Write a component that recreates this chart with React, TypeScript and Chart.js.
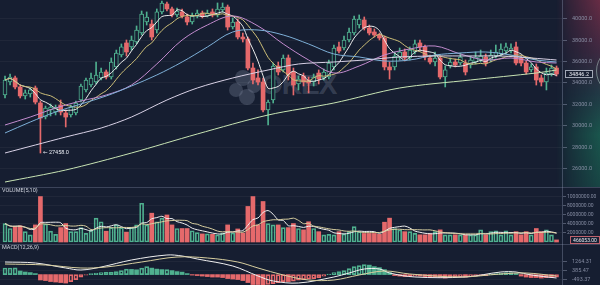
import React, { useEffect, useRef } from "react";
import { Chart, registerables } from "chart.js";

Chart.register(...registerables);

if (typeof document !== "undefined") document.body.style.margin = "0";

// ---------- data ----------
const opens = [
  32880, 34090, 34470, 33630, 32790, 32970, 33530, 32130, 30820, 31480,
  31290, 31940, 31200, 31010, 31200, 32410, 33350, 33810, 34090, 34470,
  35030, 34560, 35500, 36620, 37740, 37370, 37830, 38670, 39700, 39510,
  38950, 40640, 41380, 40920, 40360, 40640, 40170, 39700, 40260, 40540,
  40260, 40640, 40360, 40820, 41100, 39230, 39700, 38300, 38110, 35400,
  34470, 34090, 31480, 32410, 35590, 35220, 36340, 35030, 33910, 34650,
  34280, 34090, 34930, 34470, 34560, 35500, 37370, 37270, 38020, 38670,
  39420, 39890, 39140, 38770, 38490, 38210, 35500, 35500, 36430, 36900,
  36340, 36900, 37740, 37370, 36340, 35960, 36340, 34560, 35590, 35960,
  35870, 35870, 35680, 35960, 36150, 36430, 36150, 36520, 36710, 36990,
  36990, 37370, 36340, 35870, 35220, 35500, 34470, 34090, 34840, 35400,
];
const closes = [
  34280, 34560, 33630, 32790, 33070, 33350, 32220, 30730, 31660, 31760,
  31660, 31290, 30820, 31760, 32130, 33720, 34280, 34470, 34750, 35030,
  34560, 35960, 36800, 37370, 36900, 38020, 38950, 40450, 40170, 38300,
  40640, 41480, 40920, 40360, 40730, 40260, 39700, 40260, 40540, 40260,
  40540, 40360, 40920, 41100, 39230, 39700, 38300, 38110, 35400, 34280,
  34090, 31480, 32220, 35590, 35030, 36340, 34750, 33810, 34370, 34090,
  34000, 34560, 34370, 35030, 35870, 37270, 36990, 38020, 38770, 39980,
  39980, 39140, 38670, 38490, 38210, 35500, 35220, 36520, 36900, 36340,
  37080, 37650, 37370, 36430, 35960, 36340, 34560, 35220, 35960, 35680,
  36430, 35030, 36150, 36430, 36520, 35870, 36620, 36900, 37180, 37370,
  37270, 35870, 35870, 35030, 35500, 34280, 34090, 34930, 35400, 34846.2,
];
const highs = [
  34650, 34840, 34650, 33810, 33350, 33530, 33720, 32320, 31850, 32040,
  31940, 32410, 31480, 31940, 32320, 33910, 34470, 34930, 35960, 35400,
  35220, 36340, 37080, 37650, 38020, 38390, 39330, 40730, 40640, 39890,
  40920, 41660, 41570, 41100, 41010, 40920, 40450, 40540, 40820, 40730,
  40820, 40920, 41480, 41480, 41290, 40080, 39980, 38670, 38300, 35870,
  35220, 34470, 32410, 35870, 35960, 36620, 36620, 35400, 34650, 34930,
  34560, 34840, 35220, 35310, 36150, 37550, 37830, 38390, 39140, 40260,
  40360, 40170, 39420, 39050, 38670, 38390, 35960, 36900, 37270, 37180,
  37370, 38020, 38020, 37550, 36620, 36900, 36520, 35590, 36340, 36240,
  36800, 36150, 36520, 36900, 37080, 36710, 37080, 37550, 37650, 37740,
  37650, 37830, 36520, 36060, 35780, 35780, 34750, 35400, 35680, 35590,
];
const lows = [
  32600, 33810, 33440, 32600, 32500, 32690, 32040, 27458, 30640, 30920,
  31010, 31010, 29890, 30820, 31010, 32220, 33160, 33630, 33910, 34280,
  34370, 34370, 35310, 36430, 36520, 37080, 37650, 38490, 39420, 38020,
  38670, 40450, 40730, 40170, 40170, 40080, 39420, 39510, 40080, 40080,
  40170, 40170, 40170, 40640, 38950, 39050, 38110, 37830, 35220, 33910,
  33810, 31290, 30080, 32130, 34750, 35030, 34280, 32880, 33350, 33720,
  33070, 33720, 33910, 34280, 34370, 35220, 36800, 37080, 37830, 38490,
  39140, 38950, 38490, 38300, 38020, 35220, 34370, 35220, 36150, 36060,
  36150, 36710, 37080, 36150, 35780, 35590, 34370, 33630, 35400, 35500,
  35680, 34750, 35400, 35780, 35960, 35590, 35960, 36340, 36520, 36710,
  36800, 35680, 35590, 34840, 35030, 33810, 33720, 33350, 34650, 34650,
];
const volumes = [
  4100000, 3000000, 3400000, 3600000, 2300000, 1600000, 3800000, 10100000, 4000000, 2400000,
  1700000, 3200000, 4100000, 2300000, 2300000, 3200000, 1900000, 2600000, 5300000, 4500000,
  2400000, 3200000, 3800000, 3200000, 2200000, 3200000, 3800000, 8600000, 3800000, 6400000,
  4500000, 5300000, 6000000, 3800000, 3000000, 3000000, 3000000, 2500000, 2100000, 1800000,
  1800000, 1700000, 1600000, 2000000, 3800000, 2000000, 2900000, 2000000, 7900000, 10100000,
  3800000, 9000000, 4100000, 3800000, 3800000, 3200000, 3200000, 4100000, 3000000, 2700000,
  4500000, 3000000, 2300000, 1600000, 1700000, 1600000, 2300000, 1800000, 2300000, 3400000,
  2300000, 1900000, 1900000, 1900000, 1700000, 4400000, 5300000, 3000000, 2700000, 2300000,
  2300000, 1900000, 1600000, 1600000, 1800000, 2300000, 2700000, 1600000, 1600000, 1600000,
  1600000, 1600000, 1600000, 1600000, 2700000, 1600000, 2300000, 2500000, 1600000, 2500000,
  1600000, 2300000, 1600000, 2300000, 1600000, 3000000, 2300000, 2700000, 1600000, 466053,
];
const macdHist = [
  660, 660, 680, 360, 260, 200, 100, -540, -600, -700,
  -750, -800, -850, -700, -500, -250, -50, 100, 150, 200,
  250, 250, 300, 400, 550, 520, 480, 650, 800, 650,
  550, 500, 500, 400, 300, 250, 100, -50, -100, -150,
  -200, -250, -250, -300, -400, -450, -500, -600, -800, -1000,
  -1000, -1100, -1000, -900, -800, -700, -700, -650, -550, -500,
  -450, -400, -300, -150, 50, 200, 300, 400, 600, 800,
  900, 1000, 950, 800, 700, 500, 200, -100, -150, -200,
  -200, -150, -150, -200, -250, -250, -300, -350, -300, -250,
  -200, -250, -200, -150, -100, -100, 50, 100, 150, 200,
  200, 100, -150, -250, -300, -300, -350, -300, -300, -250,
];
const difIdx = [0, 6, 12, 15, 19, 25, 32, 35, 38, 45, 50, 53, 58, 65, 68, 71, 74, 76, 81, 91, 98, 101, 104, 109];
const difVals = [1264, 1164, 662, 461, 762, 1465, 1967, 1867, 1566, 863, -142, -644, -845, -242, 160, 561, 561, 160, -242, -242, 260, 260, -41, -343];
const deaIdx = [0, 8, 15, 20, 27, 34, 40, 46, 50, 55, 60, 65, 70, 75, 80, 90, 98, 103, 109];
const deaVals = [1063, 963, 662, 762, 1264, 1766, 1666, 1264, 662, -41, -544, -544, -41, 361, 60, -242, 60, 160, -142];

const ma20Idx = [0, 5, 10, 15, 20, 25, 30, 35, 40, 45, 50, 55, 60, 65, 70, 75, 80, 85, 90, 95, 100, 105, 109];
const ma20Vals = [30075, 30822, 31663, 32318, 32878, 33813, 35776, 38019, 39421, 40262, 39327, 37645, 36150, 34935, 35589, 36617, 37178, 37458, 36711, 36150, 36337, 35963, 35869];
const ma30Idx = [0, 5, 10, 15, 20, 25, 30, 35, 40, 45, 50, 55, 60, 65, 70, 75, 80, 85, 90, 95, 100, 105, 109];
const ma30Vals = [29327, 30355, 31290, 32037, 32785, 33720, 34748, 35963, 37365, 38767, 38953, 38486, 37645, 36711, 36430, 36056, 36150, 36617, 36804, 36897, 36617, 36150, 35963];
const ma60Idx = [0, 6, 12, 19, 25, 32, 38, 45, 52, 58, 65, 71, 78, 85, 92, 98, 104, 109];
const ma60Vals = [27458, 28206, 28953, 29794, 30822, 32411, 33533, 34468, 35215, 35776, 35963, 36150, 36430, 36524, 36524, 36524, 36337, 36150];
const ma120Idx = [0, 12, 25, 38, 52, 65, 78, 92, 105, 109];
const ma120Vals = [24747, 25869, 27458, 29234, 31009, 32131, 33533, 34281, 34935, 35215];

const priceTicks = [26000, 28000, 30000, 32000, 34000, 36000, 38000, 40000];
const volumeTicks = [2000000, 4000000, 6000000, 8000000, 10000000];
const macdTicks = [-493.37, 385.47, 1264.31];

// ---------- style ----------
const BG = "#161e31";
const RED = "#e5696b";
const GREEN = "#4fb08f";
const LABEL = "rgba(150,158,180,0.85)";
const GRID = "rgba(255,255,255,0.045)";
const TICKC = "rgba(150,160,185,0.45)";
const AXIS_LINE = "rgba(140,150,175,0.38)";
const FONT = "Roboto, 'DejaVu Sans', sans-serif";
const AXIS_W = 38;
const X_MIN = -0.99;
const X_MAX = 110.08;

Chart.defaults.font.family = FONT;

const isUp = (i: number) => closes[i] >= opens[i];

function movingAverage(values: number[], n: number) {
  return values.map((_, i) => {
    const s = Math.max(0, i - n + 1);
    const w = values.slice(s, i + 1);
    return w.reduce((a, b) => a + b, 0) / w.length;
  });
}

const pts = (idx: number[], vals: number[]) => idx.map((x, k) => ({ x, y: vals[k] }));
const seq = (vals: number[]) => vals.map((y, x) => ({ x, y }));

function xScale(): any {
  return { type: "linear", display: false, min: X_MIN, max: X_MAX, offset: false, grid: { display: false } };
}

function yScale(min: number, max: number, ticks: number[], decimals: number, size: number, tickLength: number, padding: number): any {
  return {
    type: "linear",
    position: "right",
    min,
    max,
    afterBuildTicks: (s: any) => {
      s.ticks = ticks.map((v) => ({ value: v }));
    },
    afterFit: (s: any) => {
      s.width = AXIS_W;
      s.paddingTop = 0;
      s.paddingBottom = 0;
    },
    ticks: {
      autoSkip: false,
      color: LABEL,
      font: { size, family: FONT },
      padding,
      callback: (v: any) => Number(v).toFixed(decimals),
    },
    grid: { color: GRID, tickColor: TICKC, tickLength, drawTicks: true },
    border: { display: true, color: AXIS_LINE, width: 1 },
  };
}

const baseOptions = (scales: any): any => ({
  animation: false,
  responsive: false,
  maintainAspectRatio: false,
  events: [],
  layout: { padding: 0 },
  plugins: { legend: { display: false }, tooltip: { enabled: false }, title: { display: false } },
  scales,
});

const topRule = {
  id: "topRule",
  afterDraw(chart: any) {
    const c = chart.ctx;
    c.save();
    c.strokeStyle = "rgba(150,160,185,0.3)";
    c.lineWidth = 1;
    c.beginPath();
    c.moveTo(0, 0.5);
    c.lineTo(chart.width, 0.5);
    c.stroke();
    c.restore();
  },
};

const panelTitle = (text: string) => ({
  id: "panelTitle",
  afterDraw(chart: any) {
    const c = chart.ctx;
    c.save();
    c.font = `5.5px ${FONT}`;
    c.fillStyle = "#cfd3dd";
    c.textBaseline = "middle";
    c.fillText(text, 2, 3.8);
    c.restore();
  },
});

const mainDecor = {
  id: "mainDecor",
  afterDraw(chart: any) {
    const { ctx, chartArea } = chart;
    const xs = chart.scales.x;
    const ys = chart.scales.y;
    let mi = 0;
    lows.forEach((v, i) => {
      if (v < lows[mi]) mi = i;
    });
    const lx = xs.getPixelForValue(mi);
    const ly = ys.getPixelForValue(lows[mi]);
    ctx.save();
    ctx.font = `5.5px ${FONT}`;
    ctx.textBaseline = "middle";
    ctx.fillStyle = "#e8ebf2";
    ctx.fillText("← " + lows[mi].toFixed(1), lx + 2.5, ly);
    const last = closes[closes.length - 1];
    const ty = Math.round(ys.getPixelForValue(last));
    const bx = chartArea.right + 3;
    ctx.fillStyle = "rgba(24,32,50,0.92)";
    ctx.fillRect(bx, ty - 4, 28, 8);
    ctx.strokeStyle = "rgba(210,215,228,0.75)";
    ctx.lineWidth = 1;
    ctx.strokeRect(bx + 0.5, ty - 3.5, 27, 7);
    ctx.fillStyle = "#e8ebf2";
    ctx.textAlign = "center";
    ctx.fillText(last.toFixed(1), bx + 14, ty + 0.5);
    ctx.restore();
  },
};

const volumeTag = {
  id: "volumeTag",
  afterDraw(chart: any) {
    const { ctx, chartArea } = chart;
    const ys = chart.scales.y;
    const last = volumes[volumes.length - 1];
    const ty = Math.round(ys.getPixelForValue(last));
    const bx = chartArea.right + 8;
    ctx.save();
    ctx.fillStyle = "rgba(24,32,50,0.92)";
    ctx.fillRect(bx, ty - 4, 30, 8);
    ctx.strokeStyle = "rgba(220,110,120,0.85)";
    ctx.lineWidth = 1;
    ctx.strokeRect(bx + 0.5, ty - 3.5, 29, 7);
    ctx.font = `5px ${FONT}`;
    ctx.fillStyle = "#e8ebf2";
    ctx.textAlign = "center";
    ctx.textBaseline = "middle";
    ctx.fillText(last.toFixed(2), bx + 15, ty + 0.5);
    ctx.restore();
  },
};

const line = (data: any[], color: string, order = 1, tension = 0.35): any => ({
  type: "line",
  data,
  borderColor: color,
  borderWidth: 1,
  pointRadius: 0,
  tension,
  fill: false,
  order,
});

function mainConfig(): any {
  const up = opens.map((_, i) => isUp(i));
  return {
    type: "bar",
    data: {
      datasets: [
        {
          type: "bar",
          data: lows.map((l, i) => ({ x: i, y: [l, highs[i]] })),
          backgroundColor: up.map((u) => (u ? GREEN : RED)),
          barThickness: 1,
          grouped: false,
          order: 3,
        },
        {
          type: "bar",
          data: opens.map((o, i) => ({ x: i, y: [o, closes[i]] })),
          backgroundColor: up.map((u) => (u ? BG : RED)),
          borderColor: up.map((u) => (u ? GREEN : RED)),
          borderWidth: up.map((u) => (u ? 1 : 0)),
          borderSkipped: false,
          barThickness: 4,
          grouped: false,
          order: 2,
        },
        line(pts(ma120Idx, ma120Vals), "#c8e4b4", 1, 0.3),
        line(pts(ma60Idx, ma60Vals), "#d9d2e6", 1, 0.3),
        line(pts(ma30Idx, ma30Vals), "#7eb0d8", 1, 0.35),
        line(pts(ma20Idx, ma20Vals), "#c38ccf", 1, 0.35),
        line(seq(movingAverage(closes, 10)), "#cdbf78", 1, 0.3),
        line(seq(movingAverage(closes, 5)), "#ececec", 1, 0.3),
      ],
    },
    options: baseOptions({ x: xScale(), y: yScale(24280, 41757, priceTicks, 1, 5.5, 5, 5) }),
    plugins: [mainDecor],
  };
}

function volumeConfig(): any {
  const up = opens.map((_, i) => isUp(i));
  return {
    type: "bar",
    data: {
      datasets: [
        {
          type: "bar",
          data: seq(volumes),
          backgroundColor: up.map((u) => (u ? "rgba(0,0,0,0)" : RED)),
          borderColor: up.map((u) => (u ? GREEN : RED)),
          borderWidth: up.map((u) => (u ? 1 : 0)),
          borderSkipped: false,
          barThickness: 4,
          grouped: false,
          order: 2,
        },
        line(seq(movingAverage(volumes, 10)), "#d8cfa0", 1, 0.3),
        line(seq(movingAverage(volumes, 5)), "#f0f0f0", 1, 0.3),
      ],
    },
    options: baseOptions({ x: xScale(), y: yScale(-444000, 12220000, volumeTicks, 2, 5, 4, 1) }),
    plugins: [topRule, panelTitle("VOLUME(5,10)"), volumeTag],
  };
}

function macdConfig(): any {
  const style = macdHist.map((v, i) => {
    const prev = i > 0 ? macdHist[i - 1] : v;
    if (v >= 0) return v >= prev ? "hg" : "fg";
    return v <= prev ? "fr" : "hr";
  });
  return {
    type: "bar",
    data: {
      datasets: [
        {
          type: "bar",
          data: seq(macdHist),
          backgroundColor: style.map((s) => (s === "fg" ? GREEN : s === "fr" ? RED : "rgba(0,0,0,0)")),
          borderColor: style.map((s) => (s === "hg" || s === "fg" ? GREEN : RED)),
          borderWidth: style.map((s) => (s === "hg" || s === "hr" ? 1 : 0)),
          borderSkipped: false,
          barThickness: 4,
          grouped: false,
          order: 2,
        },
        line(pts(deaIdx, deaVals), "#d8cfa0", 1, 0.35),
        line(pts(difIdx, difVals), "#f0f0f0", 1, 0.35),
      ],
    },
    options: baseOptions({ x: xScale(), y: yScale(-1046, 3072, macdTicks, 2, 5.5, 5, 5) }),
    plugins: [topRule, panelTitle("MACD(12,26,9)")],
  };
}

function Panel({ top, height, build }: { top: number; height: number; build: () => any }) {
  const ref = useRef<HTMLCanvasElement | null>(null);
  useEffect(() => {
    const chart = new Chart(ref.current as HTMLCanvasElement, build());
    return () => chart.destroy();
  }, []);
  return (
    <canvas
      ref={ref}
      width={600}
      height={height}
      style={{ position: "absolute", left: 0, top, width: 600, height, zIndex: 3 }}
    />
  );
}

const circle = (cx: number, cy: number, r: number): React.CSSProperties => ({
  position: "absolute",
  left: cx - r,
  top: cy - r,
  width: r * 2,
  height: r * 2,
  borderRadius: "50%",
  background: "rgba(128,138,160,0.32)",
});

export default function App() {
  const mask = "linear-gradient(90deg, rgba(0,0,0,0) 0%, rgba(0,0,0,0.35) 30%, rgba(0,0,0,1) 100%)";
  return (
    <div style={{ position: "relative", width: 600, height: 285, background: BG, overflow: "hidden" }}>
      <div
        style={{
          position: "absolute",
          left: 556,
          top: 0,
          width: 44,
          height: 187,
          zIndex: 1,
          background:
            "linear-gradient(180deg, rgba(125,48,74,0.8) 0%, rgba(95,50,78,0.55) 28%, rgba(45,85,90,0.5) 50%, rgba(28,108,88,0.72) 72%, rgba(26,96,82,0.6) 100%)",
          WebkitMaskImage: mask,
          maskImage: mask,
        }}
      />
      <div
        style={{
          position: "absolute",
          left: 596,
          top: 46,
          width: 48,
          height: 48,
          borderRadius: "50%",
          border: "1px solid rgba(200,230,220,0.45)",
          zIndex: 1,
        }}
      />
      <div style={{ position: "absolute", left: 0, top: 0, width: 600, height: 187, zIndex: 2 }}>
        <div style={circle(243, 78, 8)} />
        <div style={circle(236, 90, 7)} />
        <div style={circle(247, 97, 8)} />
        <div style={circle(254, 86, 7)} />
        <div
          style={{
            position: "absolute",
            left: 261,
            top: 70,
            fontFamily: "'Liberation Sans', Arial, sans-serif",
            fontWeight: 700,
            fontSize: 28,
            lineHeight: "30px",
            letterSpacing: -1,
            color: "rgba(128,138,160,0.3)",
          }}
        >
          OKEX
        </div>
      </div>
      <Panel top={0} height={187} build={mainConfig} />
      <Panel top={187} height={57} build={volumeConfig} />
      <Panel top={244} height={41} build={macdConfig} />
    </div>
  );
}
